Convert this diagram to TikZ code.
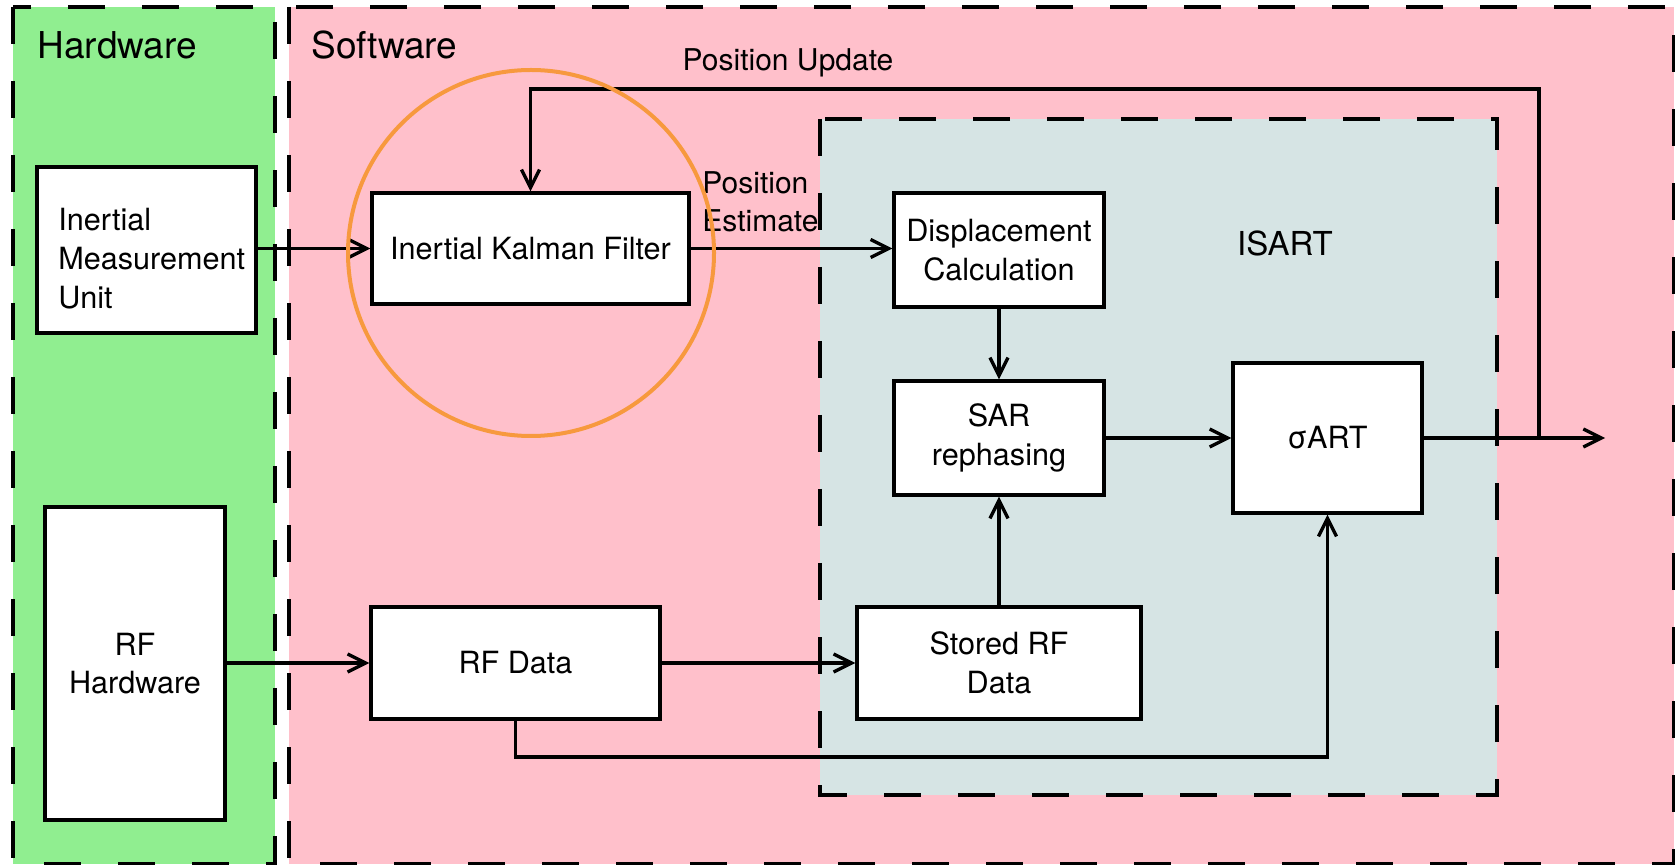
\documentclass[tikz,border=0pt]{standalone}
\usepackage{fontspec}
\setmainfont{TeX Gyre Heros}
\usetikzlibrary{arrows.meta}
\definecolor{hwgreen}{RGB}{144,238,144}
\definecolor{swpink}{RGB}{255,192,203}
\definecolor{isartgray}{RGB}{214,228,228}
\definecolor{circorange}{RGB}{247,153,62}
\begin{document}
\begin{tikzpicture}[x=0.5pt,y=-0.5pt,
  region/.style={dash pattern=on 18.5pt off 18.5pt, line width=1.8pt},
  blk/.style={draw, fill=white, line width=1.7pt, align=center, inner sep=0pt,
    font=\fontsize{15.3}{19.3}\selectfont},
  conn/.style={line width=1.65pt},
  arr/.style={conn, -{Straight Barb[length=9pt,width=9pt]}},
  lbl/.style={font=\fontsize{15}{19}\selectfont, inner sep=0pt},
  title/.style={font=\fontsize{18.5}{22}\selectfont, inner sep=0pt, anchor=west}]
\useasboundingbox (0,0) rectangle (1675,865);
\clip (0,0) rectangle (1675,865);
% regions
\fill[hwgreen] (13,7) rectangle (275,864);
\draw[region] (13,7) rectangle (275,864);
\fill[swpink] (289,7) rectangle (1674,864);
\draw[region] (289,7) rectangle (1674,864);
\fill[isartgray] (820,119) rectangle (1497,795);
\draw[region] (820,119) rectangle (1497,795);
% titles
\node[title] (hwlbl) at (37,45) {Hardware};
\node[title] (swlbl) at (311,45) {Software};
\node[font=\fontsize{16.5}{20}\selectfont, inner sep=0pt] (isartlbl) at (1285,243) {ISART};
% blocks
\node[blk, minimum width=109.5pt, minimum height=83pt] (imu) at (146.5,250) {};
\node[font=\fontsize{15.3}{19.5}\selectfont, inner sep=0pt, align=left, anchor=west] (imutext) at (58,259) {Inertial\\Measurement\\Unit};
\node[blk, minimum width=90pt, minimum height=156.5pt] (rfhw) at (135,663.5) {RF\\Hardware};
\node[blk, minimum width=158.5pt, minimum height=55.5pt] (ikf) at (530.5,248.5) {Inertial Kalman Filter};
\node[blk, minimum width=105pt, minimum height=57pt] (disp) at (999,250) {Displacement\\Calculation};
\node[blk, minimum width=105pt, minimum height=57pt] (sar) at (999,438) {SAR\\rephasing};
\node[blk, minimum width=94.5pt, minimum height=75pt] (sart) at (1327.5,438) {σART};
\node[blk, minimum width=144.5pt, minimum height=56pt] (rfdata) at (515.5,663) {RF Data};
\node[blk, minimum width=142pt, minimum height=56pt] (stored) at (999,663) {Stored RF\\Data};
% coordinates
\coordinate (rfbend) at (515.5,757);
\coordinate (out) at (1605,438);
\coordinate (branch) at (1539,438);
\coordinate (topc) at (1539,89);
% connectors
\draw[arr] (imu.east |- ikf.west) -- (ikf.west);
\draw[arr] (ikf.east) -- (disp.west |- ikf.east);
\draw[arr] (disp) -- (sar);
\draw[arr] (stored) -- (sar);
\draw[arr] (sar.east) -- (sart.west |- sar.east);
\draw[arr] (rfhw.east |- rfdata.west) -- (rfdata.west);
\draw[arr] (rfdata) -- (stored);
\draw[arr] (rfdata.south) -- (rfbend) -| (sart.south);
\draw[arr] (sart.east) -- (out);
\draw[arr] (branch) -- (topc) -| (ikf.north);
% labels
\node[lbl, anchor=base] (pu) at (788,71) {Position Update};
\node[lbl, align=left, anchor=west] (pe) at (702,202) {Position\\Estimate};
% highlight circle
\node[draw=circorange, circle, line width=2pt, minimum size=183pt, inner sep=0pt] (hl) at (531,253) {};
\end{tikzpicture}
\end{document}
